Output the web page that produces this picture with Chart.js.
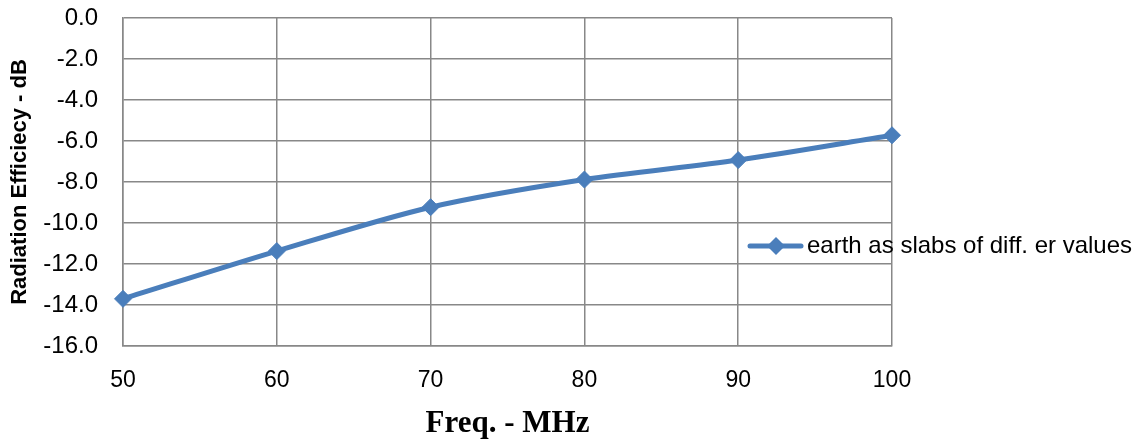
<!DOCTYPE html>
<html>
<head>
<meta charset="utf-8">
<script src="https://cdn.jsdelivr.net/npm/chart.js@4/dist/chart.umd.min.js"></script>
<style>
  html, body { margin: 0; padding: 0; background: #fff; }
  #wrap { width: 1148px; height: 443px; position: relative; }
</style>
</head>
<body>
<div id="wrap"><canvas id="myChart"></canvas></div>
<script>
const freqs = [50, 60, 70, 80, 90, 100];
const efficiency = [-13.7, -11.37, -9.23, -7.88, -6.93, -5.72];
const seriesLabel = 'earth as slabs of diff. er values';
const xTitle = 'Freq. - MHz';
const yTitle = 'Radiation Efficiecy - dB';

const lineBlue = '#4a7ebb';
const gridGray = '#888888';

// legend sits over the right edge of the plot, like the original
const overlayLegend = {
    id: 'overlayLegend',
    afterDraw(chart) {
        const ctx = chart.ctx;
        const ds = chart.data.datasets[0];
        const y = 246;
        ctx.save();
        ctx.strokeStyle = ds.borderColor;
        ctx.lineWidth = ds.borderWidth;
        ctx.lineCap = 'round';
        ctx.beginPath();
        ctx.moveTo(750, y);
        ctx.lineTo(801, y);
        ctx.stroke();
        ctx.fillStyle = ds.pointBackgroundColor;
        ctx.beginPath();
        ctx.moveTo(776, y - 9);
        ctx.lineTo(785, y);
        ctx.lineTo(776, y + 9);
        ctx.lineTo(767, y);
        ctx.closePath();
        ctx.fill();
        ctx.fillStyle = '#000';
        ctx.font = '24px "Liberation Sans", Arial, sans-serif';
        ctx.textBaseline = 'middle';
        ctx.fillText(ds.label, 807, y);
        ctx.restore();
    }
};

const ctx = document.getElementById('myChart').getContext('2d');
const myChart = new Chart(ctx, {
    type: 'line',
    data: {
        datasets: [{
            label: seriesLabel,
            data: freqs.map((f, i) => ({ x: f, y: efficiency[i] })),
            borderColor: lineBlue,
            backgroundColor: lineBlue,
            pointBackgroundColor: lineBlue,
            pointBorderColor: lineBlue,
            borderWidth: 5,
            pointStyle: 'rectRot',
            pointRadius: 8.5,
            pointBorderWidth: 1,
            tension: 0.3,
            clip: false,
            fill: false
        }]
    },
    options: {
        responsive: true,
        maintainAspectRatio: false,
        animation: false,
        layout: { padding: { top: 18, right: 256, bottom: 0, left: 0 } },
        plugins: {
            legend: { display: false },
            tooltip: { enabled: false }
        },
        scales: {
            x: {
                type: 'linear',
                min: 50,
                max: 100,
                afterFit: (scale) => { scale.height = 97; scale.paddingTop = 0; },
                ticks: {
                    stepSize: 10,
                    padding: 21,
                    color: '#000',
                    font: { family: '"Liberation Sans", Arial, sans-serif', size: 23 }
                },
                grid: { color: gridGray, lineWidth: 1.5, drawTicks: false },
                border: { color: gridGray, width: 1.5 },
                title: {
                    display: true,
                    text: xTitle,
                    color: '#000',
                    padding: { top: 1, bottom: 0 },
                    font: { family: '"Liberation Serif", "Times New Roman", serif', size: 31, weight: 'bold' }
                }
            },
            y: {
                min: -16,
                max: 0,
                afterFit: (scale) => { scale.width = 123; scale.paddingTop = 0; },
                ticks: {
                    stepSize: 2,
                    padding: 25,
                    color: '#000',
                    callback: (v) => v.toFixed(1),
                    font: { family: '"Liberation Sans", Arial, sans-serif', size: 24 }
                },
                grid: { color: gridGray, lineWidth: 1.5, drawTicks: false },
                border: { color: gridGray, width: 1.5 },
                title: {
                    display: true,
                    text: yTitle,
                    color: '#000',
                    padding: { top: 7, bottom: 0 },
                    font: { family: '"Liberation Sans", Arial, sans-serif', size: 22, weight: 'bold' }
                }
            }
        }
    },
    plugins: [overlayLegend]
});
</script>
</body>
</html>
